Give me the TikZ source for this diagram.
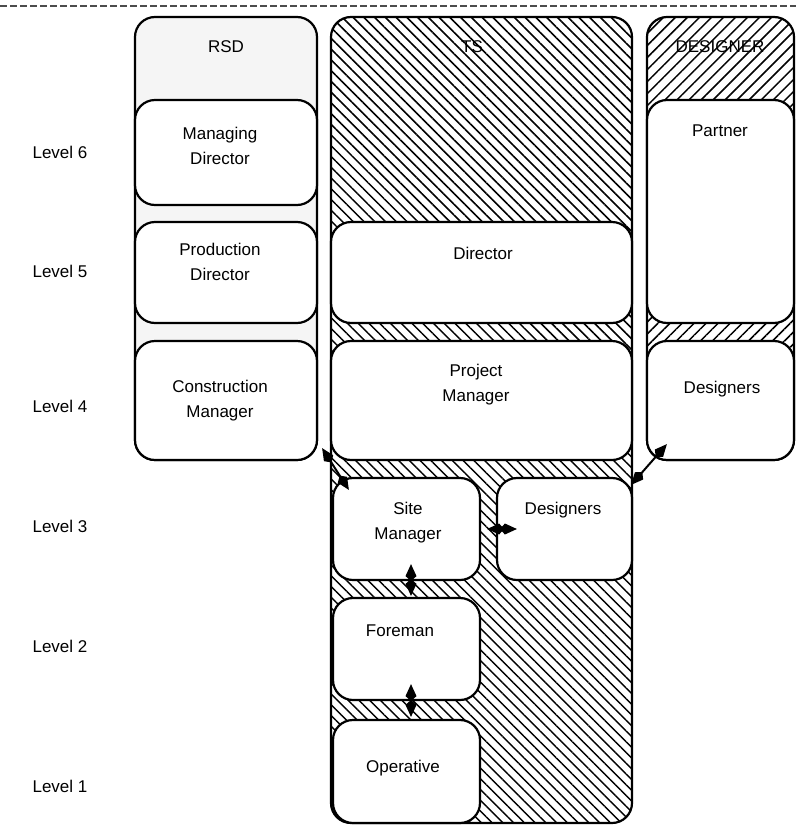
\documentclass[tikz,border=0pt]{standalone}
\usepackage{fontspec}
\setmainfont{Liberation Sans}
\usetikzlibrary{patterns.meta,arrows.meta}
\begin{document}
\begin{tikzpicture}[x=1pt,y=-1pt,
  colbox/.style={draw=black,line width=2.2pt,rounded corners=20pt,rectangle,inner sep=0pt},
  rolebox/.style={draw=black,line width=2.2pt,rounded corners=20pt,rectangle,fill=white,inner sep=0pt},
  txt/.style={font=\fontsize{17}{25}\selectfont,align=center,inner sep=0pt},
  lvl/.style={font=\fontsize{17}{20}\selectfont,inner sep=0pt},
  tip/.tip={Kite[length=17pt,width=11pt,inset=5pt,fill=black]},
  biarrow/.style={draw=black,line width=2pt,tip-tip},
  tshatch/.style={pattern={Lines[angle=-45,distance=7.6pt,line width=1.5pt]}},
  dshatch/.style={pattern={Lines[angle=45,distance=8.5pt,line width=1.5pt]}}]
\useasboundingbox (0,0) rectangle (796,825);
\fill[white] (0,0) rectangle (796,825);

% rule across the top
\coordinate (rl) at (0,6);
\coordinate (rr) at (796,6);
\draw[line width=2.5pt,black!70,dash pattern=on 7pt off 3pt] (rl) -- (rr);

% the three organisation columns
\node[colbox,fill=black!4,minimum width=182pt,minimum height=443pt] (rsd) at (226,238.5) {};
\node[colbox,tshatch,minimum width=301pt,minimum height=806pt] (ts) at (481.5,420) {};
\node[colbox,dshatch,minimum width=147pt,minimum height=443pt] (dsg) at (720.5,238.5) {};
\node[txt] (rsd-t) at (226,47) {RSD};
\node[txt] (ts-t) at (472,47) {TS};
\node[txt] (dsg-t) at (720,47) {DESIGNER};

% RSD roles
\node[rolebox,minimum width=182pt,minimum height=105pt] (md) at (226,152.5) {};
\node[rolebox,minimum width=182pt,minimum height=101pt] (pd) at (226,272.5) {};
\node[rolebox,minimum width=182pt,minimum height=119pt] (cm) at (226,400.5) {};
% TS roles
\node[rolebox,minimum width=301pt,minimum height=101pt] (dir) at (481.5,272.5) {};
\node[rolebox,minimum width=301pt,minimum height=119pt] (pm) at (481.5,400.5) {};
\node[rolebox,minimum width=147pt,minimum height=102pt] (sm) at (406.5,529) {};
\node[rolebox,minimum width=135pt,minimum height=102pt] (des3) at (564.5,529) {};
\node[rolebox,minimum width=147pt,minimum height=102pt] (fm) at (406.5,649) {};
\node[rolebox,minimum width=147pt,minimum height=103pt] (op) at (406.5,771.5) {};
% DESIGNER roles
\node[rolebox,minimum width=147pt,minimum height=223pt] (ptn) at (720.5,211.5) {};
\node[rolebox,minimum width=147pt,minimum height=119pt] (des4) at (720.5,400.5) {};

% role titles
\node[txt] (md-t) at (220,146) {Managing\\Director};
\node[txt] (pd-t) at (220,262) {Production\\Director};
\node[txt] (cm-t) at (220,401) {Construction\\Manager};
\node[txt] (dir-t) at (483,253) {Director};
\node[txt] (pm-t) at (476,385) {Project\\Manager};
\node[txt] (sm-t) at (408,523) {Site\\Manager};
\node[txt] (des3-t) at (563,510) {Designers};
\node[txt] (fm-t) at (400,631) {Foreman};
\node[txt] (op-t) at (403,768) {Operative};
\node[txt] (ptn-t) at (720,131) {Partner};
\node[txt] (des4-t) at (722,389) {Designers};

% level scale
\node[lvl] (l6) at (60,152) {Level 6};
\node[lvl] (l5) at (60,271) {Level 5};
\node[lvl] (l4) at (60,406) {Level 4};
\node[lvl] (l3) at (60,526) {Level 3};
\node[lvl] (l2) at (60,646) {Level 2};
\node[lvl] (l1) at (60,786) {Level 1};

% communication links
\draw[biarrow] ([shift={(4,-13)}]cm.south east) -- ([shift={(17,13)}]sm.north west);
\draw[biarrow] ([shift={(21,-17)}]des4.south west) -- ([shift={(-2,8)}]des3.north east);
\draw[biarrow] ([shift={(6,0)}]sm.east) -- ([shift={(21,0)}]des3.west);
\draw[biarrow] ([shift={(4.5,-17)}]sm.south) -- ([shift={(4.5,-1)}]fm.north);
\draw[biarrow] ([shift={(4.5,-17)}]fm.south) -- ([shift={(4.5,-2)}]op.north);
\end{tikzpicture}
\end{document}
